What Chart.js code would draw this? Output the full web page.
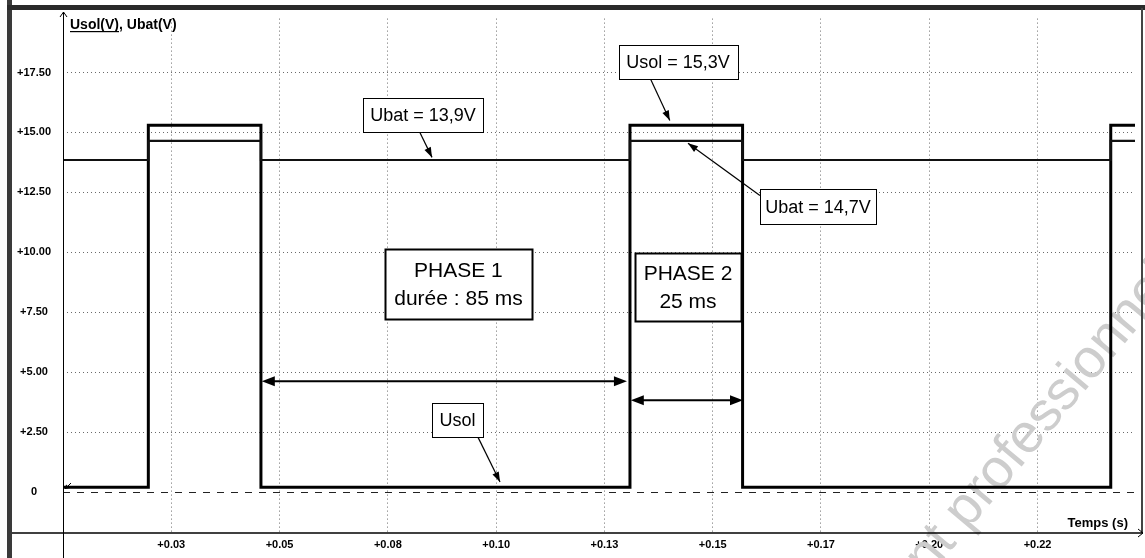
<!DOCTYPE html>
<html>
<head>
<meta charset="utf-8">
<script src="https://cdn.jsdelivr.net/npm/chart.js@4.4.1/dist/chart.umd.min.js"></script>
<style>
  html, body { margin: 0; padding: 0; background: #fff; }
</style>
</head>
<body>
<canvas id="scope" width="1145" height="558"></canvas>
<script>
var edgeTimes  = [0, 0.0197, 0.0457, 0.1309, 0.1569, 0.2419, 0.2475];
var usolLevels = [0.2, 15.3, 0.2, 15.3, 0.2, 15.3, 15.3];
var ubatLevels = [13.85, 14.65, 13.85, 14.65, 13.85, 14.65, 14.65];

// Graduations
var yTickValues = [0, 2.5, 5, 7.5, 10, 12.5, 15, 17.5];
var yTickLabels = ['0', '+2.50', '+5.00', '+7.50', '+10.00', '+12.50', '+15.00', '+17.50'];
var xTickValues = [0.025, 0.05, 0.075, 0.1, 0.125, 0.15, 0.175, 0.2, 0.225];
var xTickLabels = ['+0.03', '+0.05', '+0.08', '+0.10', '+0.13', '+0.15', '+0.17', '+0.20', '+0.22'];

// Annotations (texte, position en temps / tension)
var notes = [
  { lines: ['Ubat = 13,9V'], t: 0.0831, v: 15.71, w: 120, h: 34, size: 18, lw: 1, from: [0.0824, 15.0], to: [0.0852, 13.96] },
  { lines: ['Usol = 15,3V'], t: 0.1420, v: 17.92, w: 119, h: 34, size: 18, lw: 1, from: [0.1357, 17.21], to: [0.1401, 15.5] },
  { lines: ['Ubat = 14,7V'], t: 0.1743, v: 11.90, w: 116, h: 35, size: 18, lw: 1, from: [0.1609, 12.37], to: [0.1443, 14.55] },
  { lines: ['Usol'], t: 0.0911, v: 3.0, w: 51, h: 34, size: 18, lw: 1, from: [0.0958, 2.29], to: [0.1009, 0.42] },
  { lines: ['PHASE 1', 'durée : 85 ms'], t: 0.0913, v: 8.67, w: 147, h: 70, size: 21, lw: 2 },
  { lines: ['PHASE 2', '25 ms'], t: 0.1443, v: 8.54, w: 106, h: 68, size: 21, lw: 2 }
];
var spans = [
  { t0: 0.0459, t1: 0.1302, v: 4.62 },
  { t0: 0.1311, t1: 0.1570, v: 3.83 }
];

var FONT = "'Liberation Sans', Arial, sans-serif";

function arrowHead(ctx, x0, y0, x1, y1, len, half) {
  var a = Math.atan2(y1 - y0, x1 - x0);
  ctx.beginPath();
  ctx.moveTo(x1, y1);
  ctx.lineTo(x1 - len * Math.cos(a) + half * Math.sin(a), y1 - len * Math.sin(a) - half * Math.cos(a));
  ctx.lineTo(x1 - len * Math.cos(a) - half * Math.sin(a), y1 - len * Math.sin(a) + half * Math.cos(a));
  ctx.closePath();
  ctx.fill();
}

var scopeDecor = {
  id: 'scopeDecor',
  beforeDraw: function (chart) {
    var ctx = chart.ctx;
    ctx.save();
    ctx.fillStyle = '#fff';
    ctx.fillRect(0, 0, chart.width, chart.height);
    ctx.restore();
  },
  beforeDatasetsDraw: function (chart) {
    // filigrane
    var ctx = chart.ctx;
    ctx.save();
    ctx.translate(928, 578);
    ctx.rotate(-50 * Math.PI / 180);
    ctx.font = '55px ' + FONT;
    ctx.fillStyle = '#cdcdcd';
    ctx.textBaseline = 'alphabetic';
    ctx.fillText('nt professionnel', 0, 0);
    ctx.restore();
  },
  afterDraw: function (chart) {
    var ctx = chart.ctx;
    var xs = chart.scales.x, ys = chart.scales.y;
    var area = chart.chartArea;
    ctx.save();

    // cadre
    ctx.fillStyle = '#3a3a3a';
    ctx.fillRect(7, 0, 5, chart.height);
    ctx.fillStyle = '#2a2a2a';
    ctx.fillRect(7, 5, 1138, 5);
    ctx.fillStyle = '#444';
    ctx.fillRect(1141, 8, 2, area.bottom - 8);

    // axes
    ctx.strokeStyle = '#000';
    ctx.lineWidth = 1.5;
    ctx.beginPath();
    ctx.moveTo(12, area.bottom);
    ctx.lineTo(1143, area.bottom);
    ctx.stroke();
    ctx.lineWidth = 1;
    ctx.beginPath();
    ctx.moveTo(1138, area.bottom - 4);
    ctx.lineTo(1143, area.bottom);
    ctx.lineTo(1138, area.bottom + 4);
    ctx.stroke();
    ctx.beginPath();
    ctx.moveTo(area.left + 0.5, 12);
    ctx.lineTo(area.left + 0.5, chart.height);
    ctx.stroke();
    ctx.beginPath();
    ctx.moveTo(area.left - 3, 17);
    ctx.lineTo(area.left + 0.5, 12);
    ctx.lineTo(area.left + 4, 17);
    ctx.stroke();

    // petit repère de voie
    var zy = ys.getPixelForValue(0);
    ctx.beginPath();
    ctx.moveTo(area.left + 8, zy - 9);
    ctx.lineTo(area.left + 2, zy - 3);
    ctx.stroke();
    ctx.fillStyle = '#000';
    arrowHead(ctx, area.left + 8, zy - 9, area.left + 2, zy - 3, 4, 2.5);

    // titres d'axes
    ctx.fillStyle = '#000';
    ctx.font = 'bold 14px ' + FONT;
    ctx.textBaseline = 'alphabetic';
    ctx.textAlign = 'left';
    ctx.fillText('Usol(V), Ubat(V)', 70, 29);
    var uw = ctx.measureText('Usol(V)').width;
    ctx.fillRect(70, 31, uw, 1.2);
    ctx.font = 'bold 13px ' + FONT;
    ctx.textAlign = 'right';
    ctx.textBaseline = 'middle';
    ctx.fillText('Temps (s)', 1128, 523);

    // flèches de durée
    ctx.lineWidth = 2;
    spans.forEach(function (s) {
      var x0 = xs.getPixelForValue(s.t0), x1 = xs.getPixelForValue(s.t1), y = ys.getPixelForValue(s.v);
      ctx.beginPath();
      ctx.moveTo(x0 + 6, y);
      ctx.lineTo(x1 - 6, y);
      ctx.stroke();
      arrowHead(ctx, x1 - 20, y, x1, y, 13, 5);
      arrowHead(ctx, x0 + 20, y, x0, y, 13, 5);
    });

    // boîtes et flèches
    notes.forEach(function (n) {
      var cx = xs.getPixelForValue(n.t), cy = ys.getPixelForValue(n.v);
      if (n.from) {
        var fx = xs.getPixelForValue(n.from[0]), fy = ys.getPixelForValue(n.from[1]);
        var tx = xs.getPixelForValue(n.to[0]), ty = ys.getPixelForValue(n.to[1]);
        ctx.lineWidth = 1.2;
        ctx.beginPath();
        ctx.moveTo(fx, fy);
        ctx.lineTo(tx, ty);
        ctx.stroke();
        arrowHead(ctx, fx, fy, tx, ty, 10, 3.5);
      }
      var bx = Math.round(cx - n.w / 2) + 0.5, by = Math.round(cy - n.h / 2) + 0.5;
      ctx.fillStyle = '#fff';
      ctx.fillRect(bx, by, n.w, n.h);
      ctx.lineWidth = n.lw;
      ctx.strokeStyle = '#000';
      ctx.strokeRect(bx, by, n.w, n.h);
      ctx.fillStyle = '#000';
      ctx.font = n.size + 'px ' + FONT;
      ctx.textAlign = 'center';
      ctx.textBaseline = 'middle';
      var lh = n.size * 1.35;
      var top = cy - (n.lines.length - 1) * lh / 2;
      n.lines.forEach(function (line, i) {
        ctx.fillText(line, cx, top + i * lh + 1);
      });
    });
    ctx.restore();
  }
};

function toPoints(levels) {
  return edgeTimes.map(function (t, i) { return { x: t, y: levels[i] }; });
}

var ctx = document.getElementById('scope').getContext('2d');
var scopeChart = new Chart(ctx, {
  type: 'line',
  data: {
    datasets: [
      {
        label: 'Ubat',
        data: toPoints(ubatLevels),
        stepped: 'before',
        borderColor: '#111',
        borderWidth: 2.2,
        pointRadius: 0,
        fill: false
      },
      {
        label: 'Usol',
        data: toPoints(usolLevels),
        stepped: 'before',
        borderColor: '#000',
        borderWidth: 3,
        pointRadius: 0,
        fill: false
      }
    ]
  },
  options: {
    responsive: false,
    animation: false,
    devicePixelRatio: 1,
    layout: { padding: { top: 18, right: 10, left: 0, bottom: 0 } },
    plugins: {
      legend: { display: false },
      tooltip: { enabled: false }
    },
    scales: {
      x: {
        type: 'linear',
        min: 0,
        max: 0.2475,
        afterBuildTicks: function (scale) {
          scale.ticks = xTickValues.map(function (v) { return { value: v }; });
        },
        afterFit: function (scale) { scale.height = 25; },
        ticks: {
          autoSkip: false,
          maxRotation: 0,
          padding: 5,
          color: '#000',
          font: { family: FONT, size: 11, weight: 'bold' },
          callback: function (value, index) { return xTickLabels[index]; }
        },
        grid: { color: '#6a6a6a', lineWidth: 1, drawTicks: false },
        border: { display: false, dash: [1, 3] }
      },
      y: {
        min: -1.71,
        max: 19.75,
        afterBuildTicks: function (scale) {
          scale.ticks = yTickValues.map(function (v) { return { value: v }; });
        },
        afterFit: function (scale) { scale.width = 63; },
        ticks: {
          crossAlign: 'center',
          padding: 12,
          color: '#000',
          font: { family: FONT, size: 11, weight: 'bold' },
          callback: function (value, index) { return yTickLabels[index]; }
        },
        grid: {
          drawTicks: false,
          lineWidth: 1,
          color: function (c) { return c.tick && c.tick.value === 0 ? '#222' : '#6a6a6a'; }
        },
        border: {
          display: false,
          dash: function (c) { return c.tick && c.tick.value === 0 ? [7, 7] : [1, 3]; }
        }
      }
    }
  },
  plugins: [scopeDecor]
});
</script>
</body>
</html>
